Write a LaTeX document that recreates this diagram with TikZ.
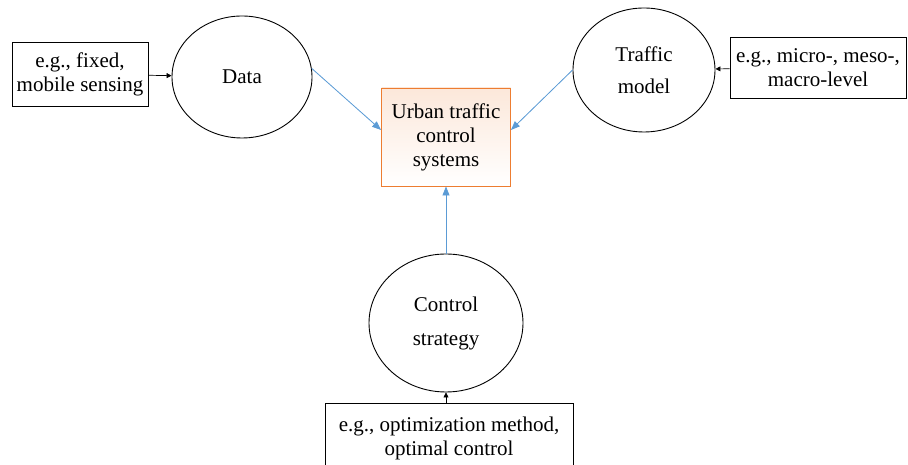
\documentclass[tikz,border=0pt]{standalone}
\usepackage{fontspec}
\setmainfont{Liberation Serif}
\usetikzlibrary{arrows.meta, shapes.geometric}
\definecolor{boxorange}{HTML}{ED7D31}
\definecolor{linkblue}{HTML}{5B9BD5}

\begin{document}
\begin{tikzpicture}[x=1pt, y=1pt]
        \tikzset{topic/.style = {shape=ellipse, draw, line width=0.9pt, inner sep=0pt, align=center, font=\fontsize{21}{24}\selectfont}}
        \tikzset{note/.style = {shape=rectangle, draw, line width=0.9pt, inner sep=0pt, align=center, font=\fontsize{21}{24}\selectfont}}
        \tikzset{feed/.style = {-{Triangle[length=5pt, width=5pt]}, line width=0.7pt}}
        \tikzset{link/.style = {-{Triangle[length=9pt, width=7pt]}, draw=linkblue, fill=linkblue, line width=0.8pt}}

        \useasboundingbox (0,0) rectangle (908,465);

        \node[note, minimum width=136, minimum height=64] (sensing) at (80, 391) {e.g., fixed,\\mobile sensing};
        \node[topic, minimum width=140, minimum height=122] (data) at (242, 388) {Data};
        \node[note, draw=boxorange, top color=boxorange!18, bottom color=white,
              minimum width=129, minimum height=98] (ucs) at (446, 328) {Urban traffic\\control\\systems};
        \node[topic, minimum width=142, minimum height=124] (model) at (644, 395) {Traffic\\[8pt]model};
        \node[note, minimum width=176, minimum height=61] (level) at (818, 397.5) {e.g., micro-, meso-,\\macro-level};
        \node[topic, minimum width=154, minimum height=138] (strategy) at (446, 142) {Control\\[10pt]strategy};
        \node[note, minimum width=248, minimum height=70] (method) at (449, 27) {e.g., optimization method,\\optimal control};

        \draw[feed] (sensing) to (data);
        \draw[feed] (level) to (model);
        \draw[feed] (method.north -| strategy.south) to (strategy.south);

        \draw[link] (data.7) to ([yshift=7pt]ucs.west);
        \draw[link] (model.west) to ([yshift=7pt]ucs.east);
        \draw[link] (strategy.north) to (ucs.south);
      \end{tikzpicture}
\end{document}
